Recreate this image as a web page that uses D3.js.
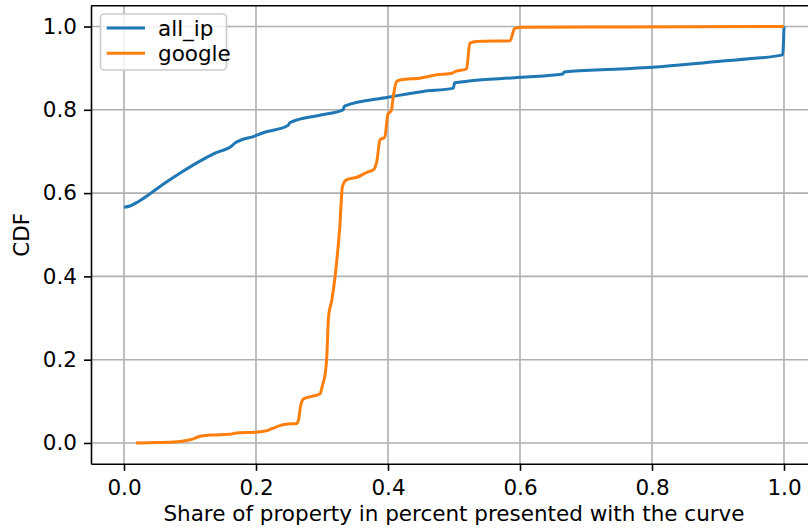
<!DOCTYPE html>
<html>
<head>
<meta charset="utf-8">
<script src="https://cdn.jsdelivr.net/npm/d3@7"></script>
<style>
  body { margin: 0; background: #fff; }
  text { font-family: "DejaVu Sans", sans-serif; }
</style>
</head>
<body>
<div id="chart"></div>
<script>
// Data
const seriesNames = ['all_ip', 'google']
const seriesColors = ['#1f77b4', '#ff7f0e']

const allIp = [
    [0, 0.566], [0.009, 0.569], [0.022, 0.580], [0.039, 0.598], [0.062, 0.624],
    [0.087, 0.650], [0.113, 0.675], [0.138, 0.696], [0.163, 0.713], [0.168, 0.720],
    [0.198, 0.737], [0.211, 0.745], [0.249, 0.763], [0.251, 0.769], [0.3, 0.788],
    [0.332, 0.8], [0.334, 0.809], [0.4, 0.83], [0.453, 0.844], [0.499, 0.852],
    [0.501, 0.865], [0.6, 0.878], [0.665, 0.886], [0.667, 0.891], [0.75, 0.898],
    [0.8, 0.902], [0.9, 0.916], [0.95, 0.923], [0.998, 0.932], [1.0, 1.0]
]

const google = [
    [0.018, 0], [0.05, 0.001], [0.08, 0.003], [0.095, 0.006], [0.105, 0.010],
    [0.115, 0.016], [0.13, 0.019], [0.16, 0.021], [0.17, 0.024], [0.2, 0.026],
    [0.215, 0.029], [0.225, 0.035], [0.235, 0.041], [0.245, 0.045], [0.262, 0.047],
    [0.265, 0.06], [0.267, 0.084], [0.272, 0.106], [0.285, 0.112], [0.297, 0.118],
    [0.301, 0.14], [0.305, 0.168], [0.307, 0.2], [0.31, 0.304], [0.315, 0.344],
    [0.321, 0.416], [0.327, 0.52], [0.331, 0.616], [0.337, 0.632], [0.353, 0.638],
    [0.368, 0.65], [0.378, 0.656], [0.383, 0.676], [0.388, 0.728], [0.395, 0.734],
    [0.4, 0.79], [0.405, 0.798], [0.408, 0.832], [0.413, 0.868], [0.42, 0.872],
    [0.448, 0.876], [0.474, 0.884], [0.497, 0.888], [0.502, 0.892], [0.519, 0.898],
    [0.524, 0.96], [0.534, 0.964], [0.585, 0.966], [0.592, 0.996], [0.605, 0.998],
    [0.75, 0.999], [1.0, 1.0]
]

const xTicks = [0, 0.2, 0.4, 0.6, 0.8, 1.0]
const yTicks = [0, 0.2, 0.4, 0.6, 0.8, 1.0]

function draw(){
    const width = 808
    const height = 530
    const plot = { left: 91, right: 817, top: 5.7, bottom: 463.8 }
    const fontSize = '21.5px'

    const xScale = d3.scaleLinear()
        .domain([-0.05, 1.05])
        .range([plot.left, plot.right])

    const yScale = d3.scaleLinear()
        .domain([-0.05, 1.05])
        .range([plot.bottom, plot.top])

    const svg = d3.select('#chart')
        .append('svg')
        .attr('width', width)
        .attr('height', height)

    // grid
    const grid = svg.append('g')
    grid.selectAll('.gx')
        .data(xTicks)
        .join('line')
        .attr('x1', d => xScale(d)).attr('x2', d => xScale(d))
        .attr('y1', plot.top).attr('y2', plot.bottom)
        .attr('stroke', '#b0b0b0').attr('stroke-width', 1.6)
    grid.selectAll('.gy')
        .data(yTicks)
        .join('line')
        .attr('y1', d => yScale(d)).attr('y2', d => yScale(d))
        .attr('x1', plot.left).attr('x2', plot.right)
        .attr('stroke', '#b0b0b0').attr('stroke-width', 1.6)

    // lines
    const line = d3.line()
        .x(d => xScale(d[0]))
        .y(d => yScale(d[1]))
        .curve(d3.curveMonotoneX)

    svg.append('path')
        .datum(allIp)
        .attr('d', line)
        .attr('fill', 'none')
        .attr('stroke', seriesColors[0])
        .attr('stroke-width', 3)
        .attr('stroke-linejoin', 'round')

    svg.append('path')
        .datum(google)
        .attr('d', line)
        .attr('fill', 'none')
        .attr('stroke', seriesColors[1])
        .attr('stroke-width', 3)
        .attr('stroke-linejoin', 'round')

    // axes
    const xAxis = d3.axisBottom(xScale)
        .tickValues(xTicks)
        .tickFormat(d3.format('.1f'))
        .tickSize(7)
        .tickPadding(9)
        .tickSizeOuter(0)
    const xAxisGroup = svg.append('g')
        .attr('transform', `translate(0, ${plot.bottom})`)
        .call(xAxis)
    const yAxis = d3.axisLeft(yScale)
        .tickValues(yTicks)
        .tickFormat(d3.format('.1f'))
        .tickSize(7)
        .tickPadding(7)
        .tickSizeOuter(0)
    const yAxisGroup = svg.append('g')
        .attr('transform', `translate(${plot.left}, 0)`)
        .call(yAxis)

    for (const g of [xAxisGroup, yAxisGroup]) {
        g.select('.domain').attr('stroke', '#000').attr('stroke-width', 1.6)
        g.selectAll('.tick line').attr('stroke', '#000').attr('stroke-width', 1.6)
        g.selectAll('.tick text')
            .attr('fill', '#000')
            .style('font-family', '"DejaVu Sans", sans-serif')
            .style('font-size', fontSize)
    }

    // top and right spines
    svg.append('line')
        .attr('x1', plot.left).attr('x2', plot.right)
        .attr('y1', plot.top).attr('y2', plot.top)
        .attr('stroke', '#000').attr('stroke-width', 1.6)
    svg.append('line')
        .attr('x1', plot.right).attr('x2', plot.right)
        .attr('y1', plot.top).attr('y2', plot.bottom)
        .attr('stroke', '#000').attr('stroke-width', 1.6)

    // axis labels
    svg.append('text')
        .text('Share of property in percent presented with the curve')
        .attr('x', (plot.left + plot.right) / 2)
        .attr('y', 521)
        .attr('text-anchor', 'middle')
        .style('font-size', fontSize)
    svg.append('text')
        .text('CDF')
        .attr('transform', `translate(28.5, ${(plot.top + plot.bottom) / 2}) rotate(-90)`)
        .attr('text-anchor', 'middle')
        .style('font-size', fontSize)

    // legend
    const legend = svg.append('g')
    legend.append('rect')
        .attr('x', 100.5).attr('y', 14)
        .attr('width', 126).attr('height', 56)
        .attr('rx', 4)
        .attr('fill', '#fff').attr('fill-opacity', 0.8)
        .attr('stroke', '#cccccc').attr('stroke-width', 1.6)
    const items = legend.selectAll('.item')
        .data(seriesNames)
        .join('g')
        .attr('transform', (d, i) => `translate(0, ${28 + i * 25.3})`)
    items.append('line')
        .attr('x1', 106.7).attr('x2', 145)
        .attr('stroke', (d, i) => seriesColors[i])
        .attr('stroke-width', 3)
    items.append('text')
        .text(d => d)
        .attr('x', 158)
        .attr('y', 7.5)
        .style('font-size', fontSize)
}
draw()
</script>
</body>
</html>
